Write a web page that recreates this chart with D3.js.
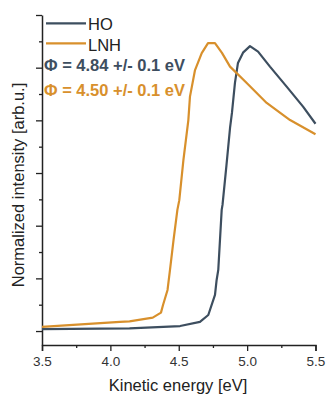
<!DOCTYPE html>
<html>
<head>
<meta charset="utf-8">
<script src="https://cdn.jsdelivr.net/npm/d3@7"></script>
<style>
  body { margin: 0; background: #fff; }
  text { font-family: "Liberation Sans", Arial, sans-serif; }
</style>
</head>
<body>
<svg id="graph" width="327" height="395"></svg>
<script>
// ---------- data ----------
var hoEnergy = [3.5, 4.14, 4.51, 4.655, 4.716, 4.765, 4.777, 4.789, 4.814, 4.82, 4.849, 4.875, 4.889, 4.911, 4.933, 4.97, 5.021, 5.08, 5.167, 5.289, 5.409, 5.5];
var hoIntensity = [0.007, 0.010, 0.019, 0.035, 0.061, 0.137, 0.194, 0.232, 0.46, 0.479, 0.63, 0.771, 0.828, 0.942, 1.018, 1.057, 1.082, 1.061, 1.004, 0.928, 0.852, 0.787];

var lnhEnergy = [3.5, 4.07, 4.14, 4.31, 4.37, 4.385, 4.418, 4.436, 4.462, 4.49, 4.504, 4.534, 4.57, 4.582, 4.619, 4.668, 4.714, 4.765, 4.816, 4.875, 4.997, 5.143, 5.314, 5.5];
var lnhIntensity = [0.016, 0.035, 0.037, 0.051, 0.070, 0.099, 0.156, 0.232, 0.346, 0.46, 0.497, 0.649, 0.80, 0.89, 0.991, 1.055, 1.093, 1.093, 1.056, 1.004, 0.942, 0.866, 0.801, 0.747];

var seriesNames = ["HO", "LNH"];
var seriesColors = ["#3d4e5f", "#d8902c"];
var phiLabels = ["\u03A6 = 4.84 +/- 0.1 eV", "\u03A6 = 4.50 +/- 0.1 eV"];
var xTicks = [3.5, 4.0, 4.5, 5.0, 5.5];
var xMinorTicks = [3.75, 4.25, 4.75, 5.25];
var yTicks = [0, 0.2, 0.4, 0.6, 0.8, 1.0, 1.2];
var yMinorTicks = [0.1, 0.3, 0.5, 0.7, 0.9, 1.1];

// ---------- scales ----------
var svg = d3.select("#graph");
var xScale = d3.scaleLinear().domain([3.5, 5.5]).range([42, 315.5]);
var yScale = d3.scaleLinear().domain([-0.053, 1.2]).range([345, 15]);

// ---------- axes ----------
var xAxis = svg.append("g")
  .attr("transform", "translate(0,345)")
  .call(d3.axisBottom(xScale).tickValues(xTicks).tickFormat(d3.format(".1f")).tickSize(6).tickPadding(5));
var xMinor = svg.append("g")
  .attr("transform", "translate(0,345)")
  .call(d3.axisBottom(xScale).tickValues(xMinorTicks).tickFormat("").tickSize(3));
xMinor.select(".domain").remove();

var yAxis = svg.append("g")
  .attr("transform", "translate(42,0)")
  .call(d3.axisLeft(yScale).tickValues(yTicks).tickFormat("").tickSize(6).tickSizeOuter(0));
var yMinor = svg.append("g")
  .attr("transform", "translate(42,0)")
  .call(d3.axisLeft(yScale).tickValues(yMinorTicks).tickFormat("").tickSize(3));
yMinor.select(".domain").remove();

svg.selectAll(".domain").attr("stroke", "#222").attr("stroke-width", 1.5);
svg.selectAll(".tick line").attr("stroke", "#222").attr("stroke-width", 1.3);
xAxis.selectAll("text").attr("font-size", "13.5px").attr("fill", "#333")
  .attr("font-family", "Liberation Sans, Arial, sans-serif");

// ---------- lines ----------
var line = d3.line()
  .x(function (d) { return xScale(d[0]); })
  .y(function (d) { return yScale(d[1]); });

var series = [
  d3.zip(hoEnergy, hoIntensity),
  d3.zip(lnhEnergy, lnhIntensity)
];

svg.selectAll(".curve")
  .data(series)
  .enter()
  .append("path")
  .attr("class", "curve")
  .attr("d", line)
  .attr("fill", "none")
  .attr("stroke", function (d, i) { return seriesColors[i]; })
  .attr("stroke-width", 2.2)
  .attr("stroke-linejoin", "round");

// ---------- legend ----------
seriesNames.forEach(function (name, i) {
  var y = 23.3 + i * 20;
  svg.append("line")
    .attr("x1", 46).attr("x2", 86)
    .attr("y1", y).attr("y2", y)
    .attr("stroke", seriesColors[i]).attr("stroke-width", 2.2);
  svg.append("text")
    .attr("x", 88).attr("y", 29.5 + i * 21.7)
    .attr("font-size", "16.5px").attr("fill", "#222")
    .text(name);
});

phiLabels.forEach(function (label, i) {
  svg.append("text")
    .attr("x", 44).attr("y", 71 + i * 25)
    .attr("font-size", "16.5px").attr("font-weight", "bold")
    .attr("fill", seriesColors[i])
    .text(label);
});

// ---------- titles ----------
svg.append("text")
  .attr("x", 178).attr("y", 391)
  .attr("text-anchor", "middle")
  .attr("font-size", "16.5px").attr("fill", "#222")
  .text("Kinetic energy [eV]");

svg.append("text")
  .attr("transform", "translate(24,185) rotate(-90)")
  .attr("text-anchor", "middle")
  .attr("font-size", "16.5px").attr("fill", "#222")
  .text("Normalized intensity [arb.u.]");
</script>
</body>
</html>
